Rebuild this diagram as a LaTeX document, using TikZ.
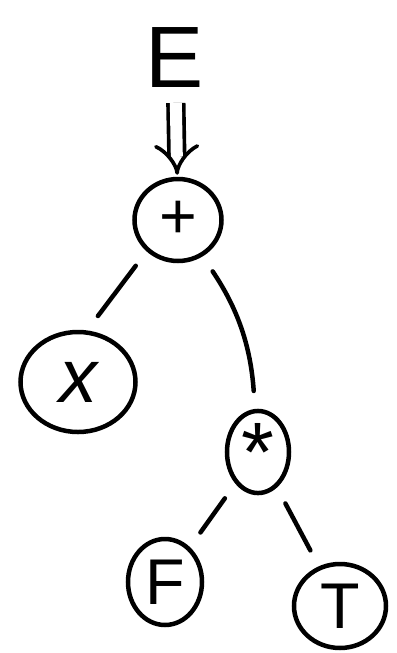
\documentclass[tikz,border=0pt]{standalone}
\usepackage{fontspec}
\setmainfont{Liberation Sans}
\usetikzlibrary{shapes.geometric,arrows.meta}

\begin{document}
\begin{tikzpicture}[
        vertex/.style={draw, ellipse, line width=3.2pt, inner sep=0pt, font=\fontsize{46}{46}\selectfont},
        edge/.style={line width=3.2pt, line cap=round, shorten <=0.45cm, shorten >=0.45cm},
        derive/.style={double, double distance=0.3cm, line width=2.6pt, -{Implies[scale=1.5]}, shorten <=0.25cm, shorten >=0.05cm}
    ]

    % Page frame
    \useasboundingbox (0,0) rectangle (9.925,-16.325);

    % Start symbol and root
    \node[font=\fontsize{62}{62}\selectfont] (start) at (4.375,-1.45) {E};
    \node[vertex, minimum width=2.175cm, minimum height=2.05cm] (plus) at (4.45,-5.5) {+};

    % Children of the root
    \node[vertex, minimum width=2.875cm, minimum height=2.5cm, font=\fontsize{54}{54}\selectfont\itshape] (var) at (1.95,-9.55) {x};
    \node[vertex, minimum width=1.55cm, minimum height=1.875cm, font=\fontsize{60}{60}\selectfont] (times) at (6.45,-11.3) {\raisebox{-0.25em}{*}};

    % Children of the product
    \node[vertex, minimum width=1.85cm, minimum height=2.15cm] (fac) at (4.125,-14.55) {F};
    \node[vertex, minimum width=2.3cm, minimum height=2.1cm] (term) at (8.5,-15.15) {T};

    % Derivation arrow
    \draw[derive] (start) -- (plus);

    % Tree edges
    \draw[edge] (plus.225) -- (var.80);
    \draw[edge] (plus) to[bend left=15] (times);
    \draw[edge] (times) -- (fac);
    \draw[edge] (times) -- (term);

\end{tikzpicture}
\end{document}
